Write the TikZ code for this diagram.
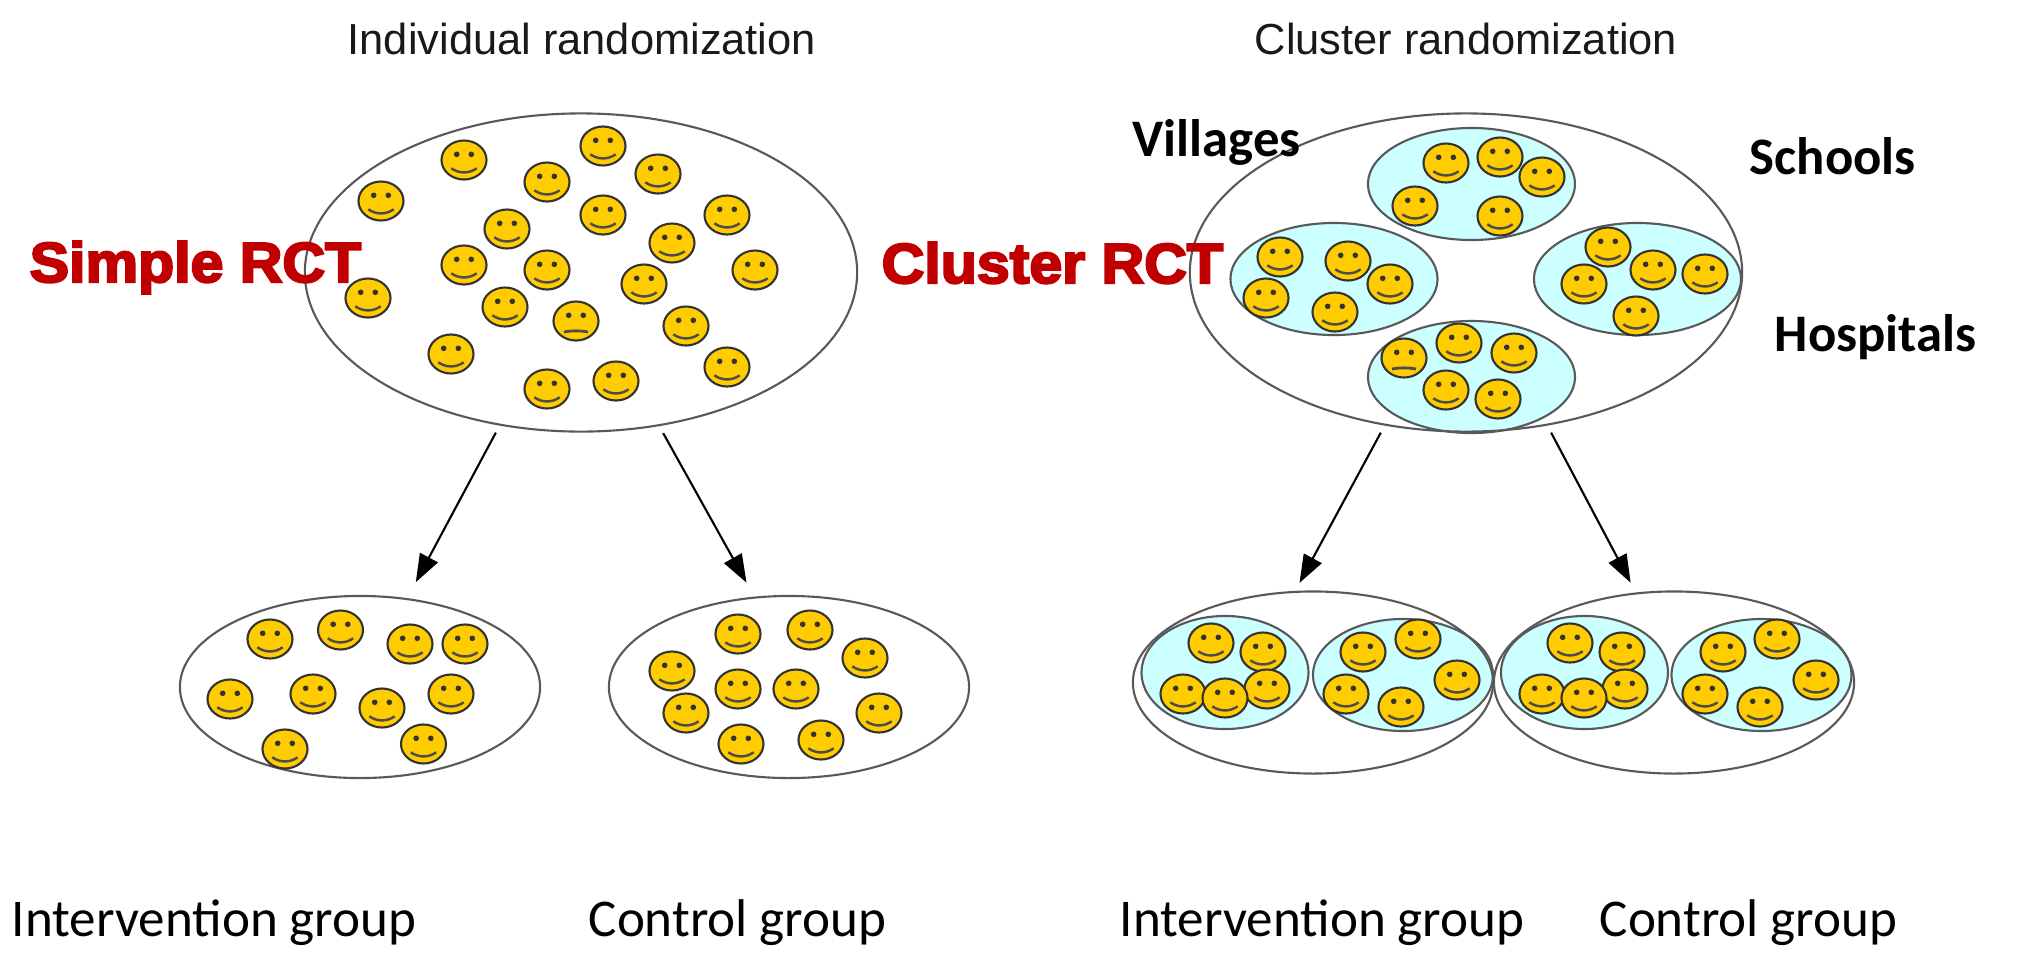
\documentclass[tikz,border=0pt]{standalone}
\usepackage{fontspec}
\usetikzlibrary{shapes.geometric, arrows.meta}
\newfontfamily\headfont{Liberation Sans}
\newfontfamily\rctfont[BoldFeatures={FakeBold=4,FakeStretch=1.05}]{Liberation Sans}
\newfontfamily\calfont{Carlito}
\definecolor{smileyellow}{HTML}{FFCC00}
\definecolor{clustercyan}{HTML}{CCFFFF}
\definecolor{rctred}{HTML}{C00000}
\tikzset{
    bigoval/.style={ellipse, draw=black!65, line width=0.6pt, inner sep=0pt, minimum width=5.52cm, minimum height=3.18cm},
    groupoval/.style={ellipse, draw=black!65, line width=0.6pt, inner sep=0pt, minimum width=3.6cm, minimum height=1.82cm},
    clusteroval/.style={ellipse, draw=black!65, line width=0.6pt, fill=clustercyan, inner sep=0pt, minimum width=2.07cm, minimum height=1.12cm},
    subcluster/.style={clusteroval, minimum width=1.67cm, minimum height=1.13cm},
    widecluster/.style={clusteroval, minimum width=1.8cm, minimum height=1.12cm},
    flow/.style={line width=0.6pt, -{Triangle[length=2.8mm,width=2mm]}},
    heading/.style={anchor=base west, inner sep=0pt, text=black!90, font=\headfont\fontsize{12.35}{14}\selectfont},
    rcttext/.style={anchor=base west, inner sep=0pt, text=rctred, font=\rctfont\bfseries\fontsize{16}{18}\selectfont},
    sitetext/.style={anchor=base west, inner sep=0pt, font=\calfont\bfseries\fontsize{15}{18}\selectfont},
    grouptext/.style={anchor=base west, inner sep=0pt, font=\calfont\fontsize{15.1}{18}\selectfont},
    facebase/.pic={
        \draw[fill=smileyellow, draw=black!80, line width=0.6pt] (0,0) ellipse [x radius=0.225cm, y radius=0.195cm];
        \fill[black!80] (-7.3,-5.7) circle [radius=0.028cm];
        \fill[black!80] (7.3,-5.7) circle [radius=0.028cm];
    },
    smile/.pic={
        \pic {facebase};
        \draw[black!70, line width=0.7pt] (-12.7,8.3) .. controls (-5,13.8) and (5,13.8) .. (12.7,8.3);
    },
    frown/.pic={
        \pic {facebase};
        \draw[black!70, line width=0.8pt] (-12,11) .. controls (-5,9.5) and (5,9.5) .. (12,11);
    }
}

\begin{document}
\begin{tikzpicture}[x=0.01cm, y=-0.01cm]
    \useasboundingbox (0,0) rectangle (2035,975);

    \node[clusteroval] (ctop) at (1471.5,184) {};
    \node[clusteroval] (cleft) at (1334,279) {};
    \node[clusteroval] (cright) at (1637.5,279) {};
    \node[clusteroval] (cbottom) at (1471.5,377) {};
    \node[subcluster] (ileft) at (1225,672.5) {};
    \node[widecluster] (iright) at (1403,675) {};
    \node[subcluster] (kleft) at (1584.5,672.5) {};
    \node[widecluster] (kright) at (1761.5,675) {};

    \node[bigoval] (simple) at (581,272.5) {};
    \node[bigoval] (cluster) at (1466,272.5) {};
    \node[groupoval] (interv) at (360,687) {};
    \node[groupoval] (contr) at (789,687) {};
    \node[groupoval] (clinterv) at (1313,682.5) {};
    \node[groupoval] (clcontr) at (1674,682.5) {};

    \draw[flow, shorten <=0.08cm, shorten >=0.18cm] (simple.242.4) -- (interv.62.4);
    \draw[flow, shorten <=0.08cm, shorten >=0.16cm] (simple.297.5) -- (contr.111.5);
    \draw[flow, shorten <=0.08cm, shorten >=0.09cm] (cluster.242.6) -- (clinterv.101.3);
    \draw[flow, shorten <=0.08cm, shorten >=0.11cm] (cluster.298) -- (clcontr.113.2);

    \foreach \fx/\fy in {464/160, 603/146, 547/182, 658/174, 381/201, 603/215, 727/215,
        507/229, 672/243, 464/265, 547/270, 755/270, 644/284, 368/298, 505/307, 686/326,
        451/354, 616/381, 727/367, 547/389}
        \pic at (\fx,\fy) {smile};
    \pic at (576,321) {frown};

    \foreach \fx/\fy in {1446/163, 1500/157, 1542/177, 1415/206, 1500/216,
        1280/257, 1348/261, 1390/284, 1266/298, 1335/312,
        1608/247, 1653/270, 1705/274, 1584/284, 1636/316,
        1459/343, 1514/353, 1446/390, 1498/399}
        \pic at (\fx,\fy) {smile};
    \pic at (1404,358) {frown};

    \foreach \fx/\fy in {270/639, 340.5/630, 410/644, 465/644, 230/699, 313/694, 382/708,
        451/694, 285/749, 423.5/744,
        738/634, 810/630, 865/658, 672/671, 738/689, 796/689, 686/713, 879/713, 741/744, 821/740}
        \pic at (\fx,\fy) {smile};

    \foreach \fx/\fy in {1211/643, 1263/652, 1183/694, 1267/689, 1225/698,
        1363/652, 1418/639, 1457/680, 1346/694, 1401/707,
        1570/643, 1622/652, 1542/694, 1625/689, 1584/698,
        1723/652, 1777/639, 1816/680, 1705/694, 1760/707}
        \pic at (\fx,\fy) {smile};

    \node[heading] (indtitle) at (347,54) {Individual randomization};
    \node[heading] (clutitle) at (1254,54) {Cluster randomization};
    \node[rcttext] (simplercl) at (29,282) {Simple RCT};
    \node[rcttext] (clusterrcl) at (881,283) {Cluster RCT};
    \node[sitetext] (villages) at (1132,156) {Villages};
    \node[sitetext] (schools) at (1749,174) {Schools};
    \node[sitetext] (hospitals) at (1774,351) {Hospitals};
    \node[grouptext] (intvleft) at (11,936) {Intervention group};
    \node[grouptext] (ctrlleft) at (588,936) {Control group};
    \node[grouptext] (intvright) at (1119,936) {Intervention group};
    \node[grouptext] (ctrlright) at (1599,936) {Control group};
\end{tikzpicture}
\end{document}
